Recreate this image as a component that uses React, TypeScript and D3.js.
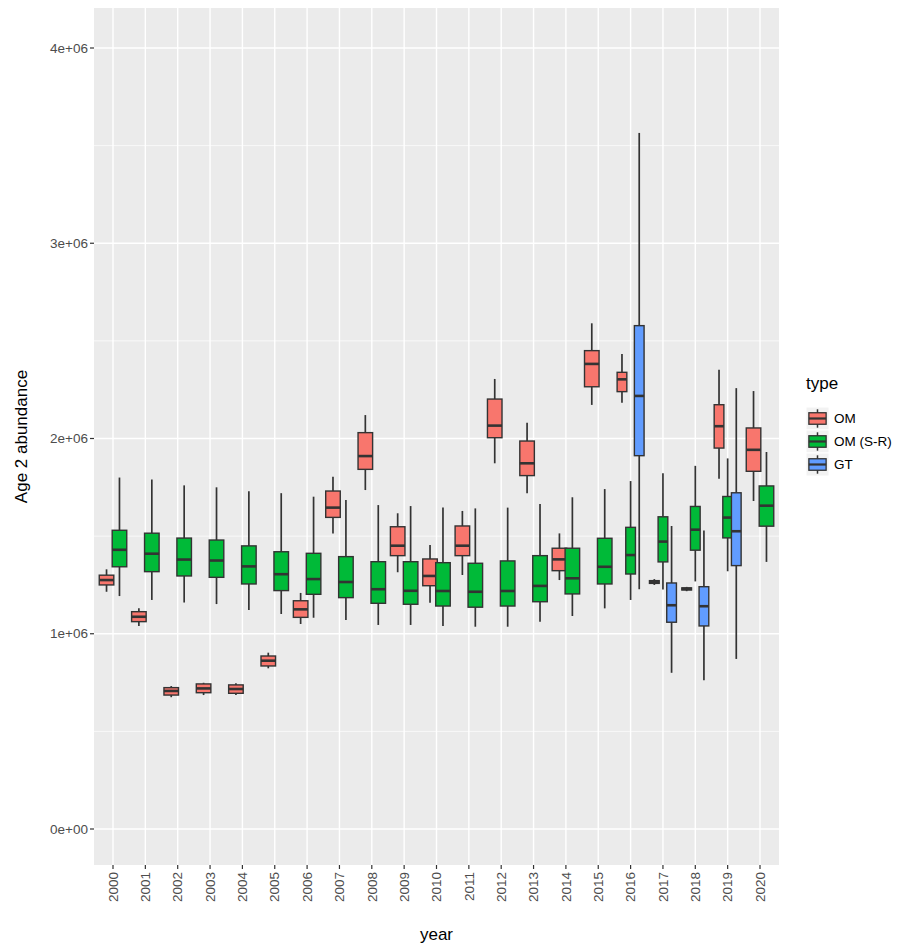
import React from "react";
import * as d3 from "d3";

// box stats per year: [year, lower whisker, q1, median, q3, upper whisker] in millions
const years = d3.range(2000, 2021);
const types = ["OM", "OM (S-R)", "GT"];
const typeColors = ["#F8766D", "#00BA38", "#619CFF"];

const omStats = [
  [2000, 1.215, 1.25, 1.275, 1.3, 1.33],
  [2001, 1.04, 1.062, 1.087, 1.113, 1.13],
  [2002, 0.675, 0.686, 0.707, 0.724, 0.732],
  [2003, 0.686, 0.698, 0.72, 0.743, 0.749],
  [2004, 0.686, 0.695, 0.717, 0.738, 0.746],
  [2005, 0.823, 0.835, 0.862, 0.886, 0.903],
  [2006, 1.05, 1.084, 1.125, 1.169, 1.209],
  [2007, 1.514, 1.596, 1.646, 1.731, 1.804],
  [2008, 1.736, 1.842, 1.91, 2.03, 2.12],
  [2009, 1.315, 1.4, 1.451, 1.548, 1.617],
  [2010, 1.159, 1.246, 1.296, 1.383, 1.455],
  [2011, 1.301, 1.4, 1.451, 1.552, 1.629],
  [2012, 1.873, 2.004, 2.066, 2.202, 2.305],
  [2013, 1.719, 1.81, 1.873, 1.987, 2.081],
  [2014, 1.275, 1.323, 1.381, 1.438, 1.514],
  [2015, 2.172, 2.265, 2.382, 2.45, 2.59],
  [2016, 2.183, 2.24, 2.303, 2.339, 2.433],
  [2017, 1.25, 1.258, 1.265, 1.272, 1.28],
  [2018, 1.218, 1.224, 1.23, 1.235, 1.24],
  [2019, 1.794, 1.951, 2.063, 2.173, 2.352],
  [2020, 1.68, 1.832, 1.942, 2.054, 2.243],
];

const omSrStats = [
  [2000, 1.193, 1.343, 1.43, 1.53, 1.8],
  [2001, 1.173, 1.318, 1.41, 1.515, 1.79],
  [2002, 1.16, 1.296, 1.38, 1.49, 1.76],
  [2003, 1.152, 1.289, 1.375, 1.48, 1.75],
  [2004, 1.122, 1.255, 1.345, 1.45, 1.73],
  [2005, 1.101, 1.221, 1.305, 1.42, 1.72],
  [2006, 1.082, 1.202, 1.28, 1.412, 1.702],
  [2007, 1.07, 1.185, 1.265, 1.395, 1.685],
  [2008, 1.045, 1.156, 1.228, 1.369, 1.659],
  [2009, 1.045, 1.151, 1.22, 1.369, 1.654],
  [2010, 1.04, 1.142, 1.219, 1.364, 1.646],
  [2011, 1.036, 1.136, 1.215, 1.361, 1.642],
  [2012, 1.036, 1.142, 1.219, 1.373, 1.646],
  [2013, 1.062, 1.164, 1.245, 1.4, 1.665],
  [2014, 1.091, 1.204, 1.284, 1.438, 1.699],
  [2015, 1.13, 1.255, 1.343, 1.489, 1.741],
  [2016, 1.173, 1.306, 1.403, 1.545, 1.782],
  [2017, 1.226, 1.368, 1.472, 1.599, 1.822],
  [2018, 1.268, 1.428, 1.533, 1.652, 1.86],
  [2019, 1.32, 1.491, 1.595, 1.703, 1.898],
  [2020, 1.368, 1.551, 1.656, 1.757, 1.931],
];

const gtStats = [
  [2016, 1.228, 1.912, 2.218, 2.578, 3.565],
  [2017, 0.8, 1.059, 1.146, 1.26, 1.552],
  [2018, 0.762, 1.04, 1.141, 1.241, 1.529],
  [2019, 0.871, 1.349, 1.525, 1.722, 2.258],
];

const yTicks = [0, 1e6, 2e6, 3e6, 4e6];
const yMinor = [0.5e6, 1.5e6, 2.5e6, 3.5e6];

const W = 919;
const H = 947;
const panel = { left: 94, right: 779, top: 8, bottom: 865 };
const font = "'Liberation Sans', Arial, Helvetica, sans-serif";

const App = () => {
  const x = d3.scalePoint<number>().domain(years).range([113, 760]);
  const unit = x.step();
  const y = d3.scaleLinear().domain([0, 4e6]).range([829, 48]);
  const fmt = (v: number) => v.toExponential(0).replace(/e([+-])(\d)$/, "e$10$2");

  const allStats = [omStats, omSrStats, gtStats];

  // dodge like ggplot: width 0.8, box width 0.9 split among groups present
  const boxes: any[] = [];
  years.forEach((yr) => {
    const present = allStats
      .map((s, ti) => ({ ti, row: s.find((r) => r[0] === yr) }))
      .filter((d) => d.row);
    const n = present.length;
    present.forEach((d, i) => {
      const [, lo, q1, med, q3, hi] = d.row as number[];
      const cx = (x(yr) as number) + 0.8 * unit * ((i + 0.5) / n - 0.5);
      const bw = (0.9 * unit) / n;
      boxes.push({ key: `${yr}-${d.ti}`, cx, bw, lo: lo * 1e6, q1: q1 * 1e6, med: med * 1e6, q3: q3 * 1e6, hi: hi * 1e6, color: typeColors[d.ti] });
    });
  });

  const keySize = 23;
  const legendTop = 407;
  const ink = "#333333";

  return (
    <svg width={W} height={H} style={{ position: "absolute", left: 0, top: 0, background: "#fff" }} fontFamily={font}>
      <rect x={panel.left} y={panel.top} width={panel.right - panel.left} height={panel.bottom - panel.top} fill="#EBEBEB" />
      {yMinor.map((v) => (
        <line key={v} x1={panel.left} x2={panel.right} y1={y(v)} y2={y(v)} stroke="#fff" strokeWidth={0.7} />
      ))}
      {yTicks.map((v) => (
        <line key={v} x1={panel.left} x2={panel.right} y1={y(v)} y2={y(v)} stroke="#fff" strokeWidth={1.4} />
      ))}
      {years.map((yr) => (
        <line key={yr} x1={x(yr)} x2={x(yr)} y1={panel.top} y2={panel.bottom} stroke="#fff" strokeWidth={1.4} />
      ))}

      {boxes.map((b) => (
        <g key={b.key}>
          <line x1={b.cx} x2={b.cx} y1={y(b.hi)} y2={y(b.q3)} stroke={ink} strokeWidth={1.7} />
          <line x1={b.cx} x2={b.cx} y1={y(b.q1)} y2={y(b.lo)} stroke={ink} strokeWidth={1.7} />
          <rect x={b.cx - b.bw / 2} y={y(b.q3)} width={b.bw} height={y(b.q1) - y(b.q3)} fill={b.color} stroke={ink} strokeWidth={1.4} />
          <line x1={b.cx - b.bw / 2} x2={b.cx + b.bw / 2} y1={y(b.med)} y2={y(b.med)} stroke={ink} strokeWidth={2.6} />
        </g>
      ))}

      {/* y axis */}
      {yTicks.map((v) => (
        <g key={v}>
          <line x1={panel.left - 4} x2={panel.left} y1={y(v)} y2={y(v)} stroke={ink} strokeWidth={1.2} />
          <text x={panel.left - 6} y={y(v)} dy="0.35em" textAnchor="end" fontSize={13.5} fill="#4D4D4D">
            {fmt(v)}
          </text>
        </g>
      ))}
      <text transform={`translate(27,${(panel.top + panel.bottom) / 2}) rotate(-90)`} textAnchor="middle" fontSize={17} fill="#000">
        Age 2 abundance
      </text>

      {/* x axis */}
      {years.map((yr) => (
        <g key={yr}>
          <line x1={x(yr)} x2={x(yr)} y1={panel.bottom} y2={panel.bottom + 4} stroke={ink} strokeWidth={1.2} />
          <text transform={`translate(${x(yr)},${panel.bottom + 7}) rotate(-90)`} dy="0.35em" textAnchor="end" fontSize={13.5} fill="#4D4D4D">
            {yr}
          </text>
        </g>
      ))}
      <text x={(panel.left + panel.right) / 2} y={940} textAnchor="middle" fontSize={17} fill="#000">
        year
      </text>

      {/* legend */}
      <text x={806} y={389} fontSize={17} fill="#000">type</text>
      {types.map((t, i) => {
        const ky = legendTop + i * keySize;
        const kx = 806;
        return (
          <g key={t}>
            <rect x={kx} y={ky} width={keySize} height={keySize} fill="#F2F2F2" stroke="#fff" />
            <line x1={kx + keySize / 2} x2={kx + keySize / 2} y1={ky + keySize * 0.1} y2={ky + keySize * 0.9} stroke={ink} strokeWidth={1.5} />
            <rect x={kx + keySize * 0.125} y={ky + keySize * 0.25} width={keySize * 0.75} height={keySize * 0.5} fill={typeColors[i]} stroke={ink} strokeWidth={1.3} />
            <line x1={kx + keySize * 0.125} x2={kx + keySize * 0.875} y1={ky + keySize / 2} y2={ky + keySize / 2} stroke={ink} strokeWidth={2.2} />
            <text x={kx + keySize + 5} y={ky + keySize / 2} dy="0.35em" fontSize={13.5} fill="#000">
              {t}
            </text>
          </g>
        );
      })}
    </svg>
  );
};

export default App;
